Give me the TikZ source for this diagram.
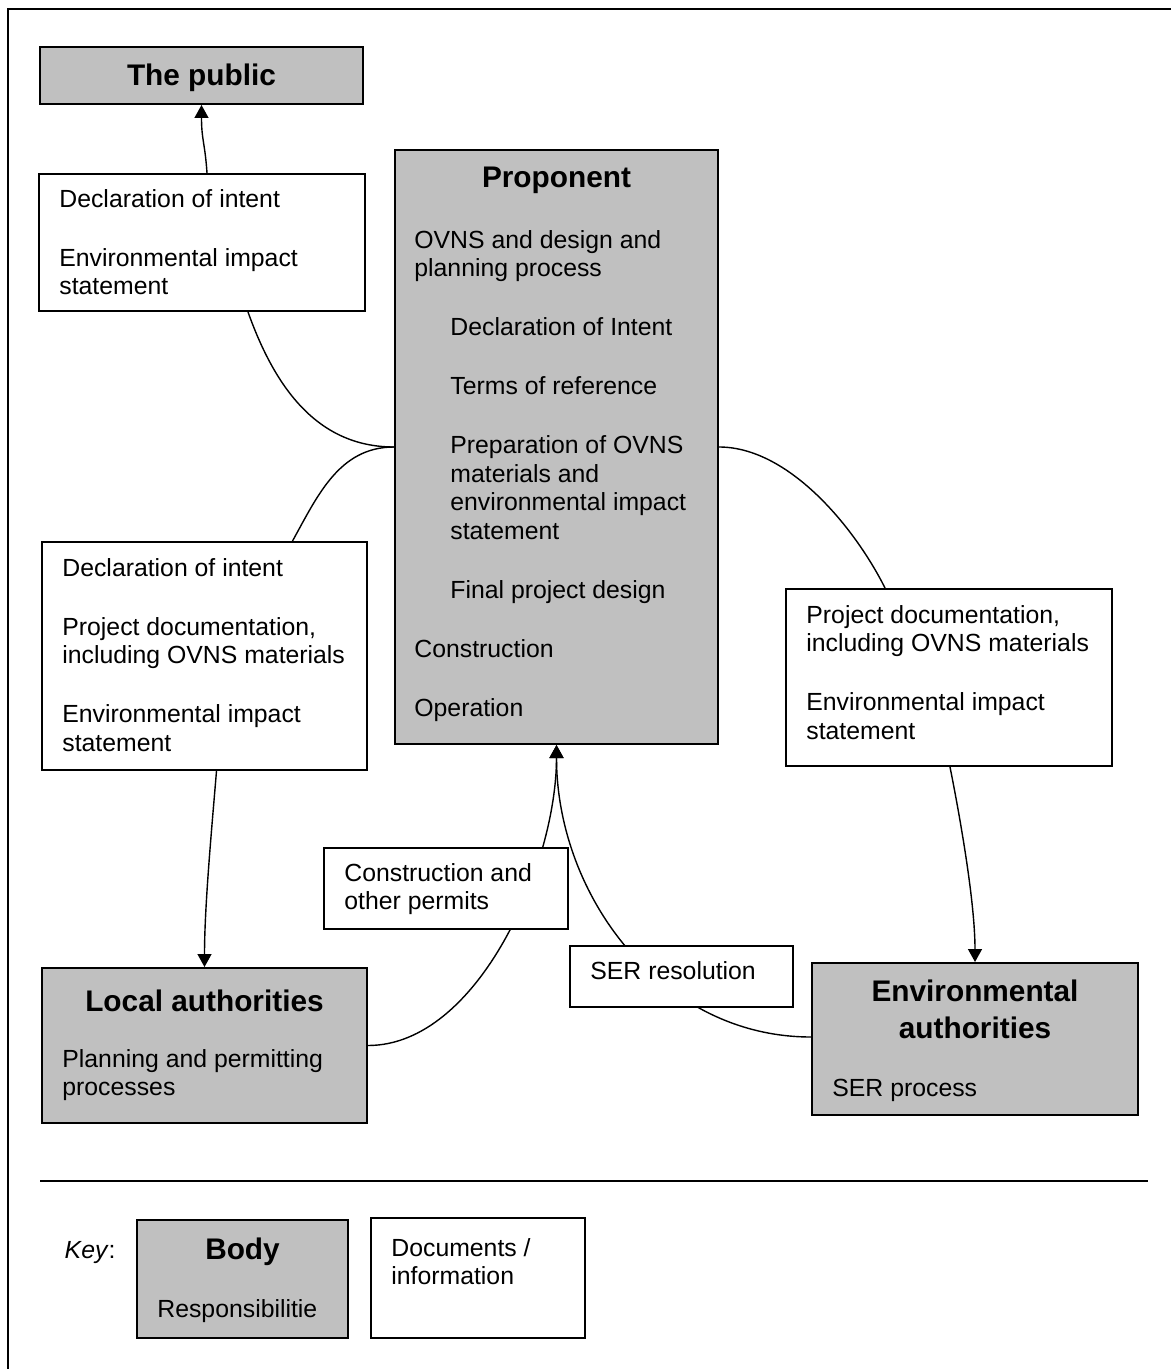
\documentclass[tikz,border=0pt]{standalone}
\usepackage{fontspec}
\setmainfont{Liberation Sans}
\usetikzlibrary{arrows.meta,fit}
\definecolor{bodygray}{HTML}{C0C0C0}
\pgfdeclarelayer{bg}
\pgfsetlayers{bg,main}
\newcommand{\txtf}{\fontsize{12.4}{14.2}\selectfont}
\newcommand{\ttlf}{\fontsize{14.9}{18.5}\selectfont\bfseries}
\newcommand{\fs}{\rule{0pt}{10pt}}
\newcommand{\ts}{\rule{0pt}{12pt}}
\newcommand{\pg}{\\[15.3pt]}
\newcommand{\ind}{\hspace*{18pt}}
\begin{document}
\begin{tikzpicture}[x=0.5pt,y=-0.5pt,
  bodybox/.style={draw,fill=bodygray,line width=1pt,inner sep=0pt,fit={#1}},
  docbox/.style={draw,fill=white,line width=1pt,inner sep=0pt,fit={#1}},
  txt/.style={anchor=north west,align=left,inner sep=0pt,font=\txtf},
  ttl/.style={anchor=base,align=center,inner sep=0pt,font=\ttlf},
  conn/.style={line width=0.7pt},
  arr/.style={conn,-{Triangle[length=6.5pt,width=7pt]}}]
\useasboundingbox (0,0) rectangle (1171,1369);
% frame
\draw[line width=0.8pt] (8,1369) -- (8,9) -- (1171,9);

% bodies
\node[bodybox={(40,47) (363,104)}] (pub) {};
\node[ttl] (pubT) at (201.5,86) {The public};

\node[bodybox={(395,150) (718,744)}] (prop) {};
\node[ttl] (propT) at (556.5,188) {Proponent};
\node[txt] (propX) at (414,228) {\fs OVNS and design and\\planning process\pg
\ind Declaration of Intent\pg
\ind Terms of reference\pg
\ind Preparation of OVNS\\\ind materials and\\\ind environmental impact\\\ind statement\pg
\ind Final project design\pg
Construction\pg
Operation};

\node[bodybox={(42,968) (367,1123)}] (la) {};
\node[ttl] (laT) at (204.5,1011) {Local authorities};
\node[txt] (laX) at (62,1047) {\fs Planning and permitting\\processes};

\node[bodybox={(812,963) (1138,1115)}] (ea) {};
\node[ttl,anchor=north] (eaT) at (975,977) {\ts Environmental\\authorities};
\node[txt] (eaX) at (832,1076) {\fs SER process};

% documents
\node[docbox={(39,174) (365,311)}] (docA) {};
\node[txt] (docAX) at (59,187) {\fs Declaration of intent\pg Environmental impact\\statement};

\node[docbox={(42,542) (367,770)}] (docB) {};
\node[txt] (docBX) at (62,556) {\fs Declaration of intent\pg Project documentation,\\including OVNS materials\pg Environmental impact\\statement};

\node[docbox={(786,589) (1112,766)}] (docC) {};
\node[txt] (docCX) at (806,603) {\fs Project documentation,\\including OVNS materials\pg Environmental impact\\statement};

\node[docbox={(324,848) (568,929)}] (cons) {};
\node[txt] (consX) at (344,861) {\fs Construction and\\other permits};

\node[docbox={(570,946) (793,1007)}] (ser) {};
\node[txt] (serX) at (590,959) {\fs SER resolution};

% connectors
\begin{pgfonlayer}{bg}
\draw[arr] ([xshift=2.5pt]docA.north) .. controls +(-2,-30) and +(0,35) .. (pub.south);
\draw[conn] ([xshift=23pt]docA.south) .. controls +(25,70) and +(-80,0) .. (prop.west);
\draw[conn] (prop.west) .. controls +(-55,0) and +(25,-45) .. ([xshift=44pt]docB.north);
\draw[conn] (prop.east) .. controls +(70,0) and +(-30,-60) .. ([xshift=-32pt]docC.north);
\draw[arr] ([xshift=6pt]docB.south) .. controls +(-5,60) and +(0,-60) .. (la.north);
\draw[arr] ([xshift=0.5pt]docC.south) .. controls +(10,50) and +(0,-60) .. (ea.north);
\draw[arr] (la.east) .. controls +(110,0) and +(0,120) .. (prop.south);
\draw[arr] ([yshift=1pt]ea.west) .. controls +(-150,0) and +(0,150) .. (prop.south);
\end{pgfonlayer}

% key
\draw[line width=0.8pt] (40,1181) coordinate (sepL) -- (1148,1181) coordinate (sepR);
\node[font=\txtf,anchor=base east,inner sep=0pt] (keyT) at (116,1258) {\textit{Key}:};
\node[bodybox={(137,1220) (348,1338)}] (kbody) {};
\node[ttl] (kbodyT) at (242.5,1259) {Body};
\node[txt] (kbodyX) at (157,1297) {\fs Responsibilitie};
\node[docbox={(371,1218) (585,1338)}] (kdoc) {};
\node[txt] (kdocX) at (391,1236) {\fs Documents /\\information};
\end{tikzpicture}
\end{document}
